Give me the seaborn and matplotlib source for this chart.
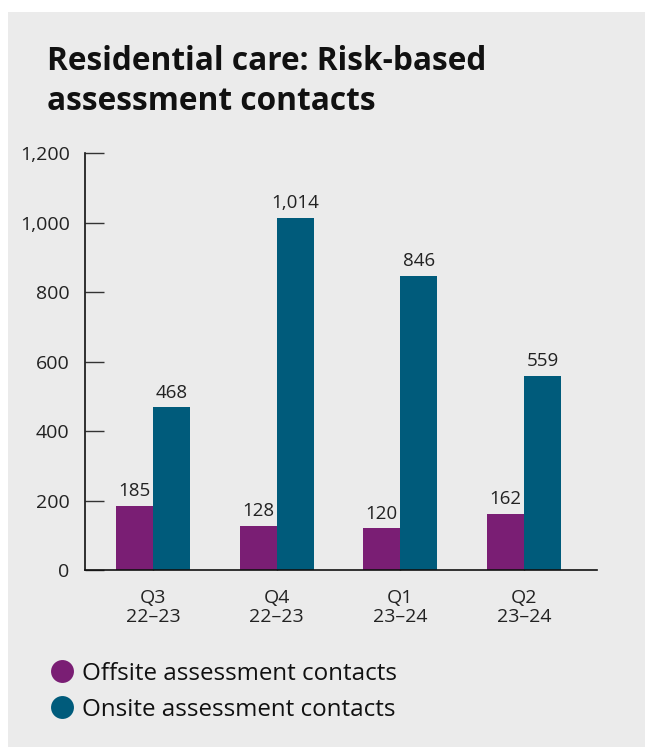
import matplotlib
matplotlib.use("Agg")
import matplotlib.pyplot as plt
import seaborn as sns
import pandas as pd
from matplotlib.patches import Rectangle
from matplotlib.lines import Line2D

quarters = ["Q3\n22\u201323", "Q4\n22\u201323", "Q1\n23\u201324", "Q2\n23\u201324"]
offsite = [185, 128, 120, 162]
onsite = [468, 1014, 846, 559]
series = ["Offsite assessment contacts", "Onsite assessment contacts"]
colors = ["#7a1e74", "#005b7b"]
yticks = [0, 200, 400, 600, 800, 1000, 1200]

sns.set_theme(style="white")
plt.rcParams["font.family"] = ["Open Sans", "DejaVu Sans"]

df = pd.DataFrame({
    "quarter": quarters * 2,
    "series": [series[0]] * 4 + [series[1]] * 4,
    "value": offsite + onsite,
})

bg = "#ebebeb"
fig = plt.figure(figsize=(6.45, 7.47), dpi=100, facecolor="white")
fig.patches.append(Rectangle((8 / 645, 0), 1, 1 - 12 / 747, transform=fig.transFigure,
                             facecolor=bg, edgecolor="none", zorder=-5))
ax = fig.add_axes([85 / 645, 1 - 570 / 747, (597 - 85) / 645, (570 - 153) / 747])
ax.set_facecolor(bg)

sns.barplot(data=df, x="quarter", y="value", hue="series", palette=colors,
            width=0.6, gap=0, saturation=1, ax=ax, legend=False, errorbar=None,
            linewidth=0, edgecolor="none")

for cont in ax.containers:
    ax.bar_label(cont, labels=[f"{v:,.0f}" for v in cont.datavalues], padding=4,
                 fontsize=13.5, color="#222222")

ax.set_ylim(0, 1200)
ax.set_xlim(-0.55, 3.59)
ax.set_yticks(yticks)
ax.set_yticklabels([f"{v:,}" for v in yticks], fontsize=14, color="#222222")
ax.tick_params(axis="y", direction="in", length=14, width=1, color="#333333", pad=11, left=True)
ax.tick_params(axis="x", direction="in", length=8, width=1, color="#111111", pad=14,
               bottom=True, labelsize=14, labelcolor="#222222")
for lab in ax.get_xticklabels():
    lab.set_linespacing(1.05)
ax.set_xlabel("")
ax.set_ylabel("")
for s in ["top", "right"]:
    ax.spines[s].set_visible(False)
for s in ["left", "bottom"]:
    ax.spines[s].set_color("#111111")
    ax.spines[s].set_linewidth(1.2)

fig.text(47 / 645, 1 - 45 / 747, "Residential care: Risk-based\nassessment contacts",
         fontsize=22.8, fontweight="bold", va="top", ha="left", color="#111111",
         linespacing=1.27)

handles = [Line2D([0], [0], marker="o", linestyle="none", markersize=16.5,
                  markerfacecolor=c, markeredgecolor="none") for c in colors]
fig.legend(handles, series, loc="upper left", bbox_to_anchor=(40 / 645, 1 - 652 / 747),
           frameon=False, fontsize=17.4, handletextpad=0.35, labelspacing=0.5,
           borderaxespad=0, handlelength=1.0, labelcolor="#111111")

fig.savefig("out.png", dpi=100, facecolor="white")
